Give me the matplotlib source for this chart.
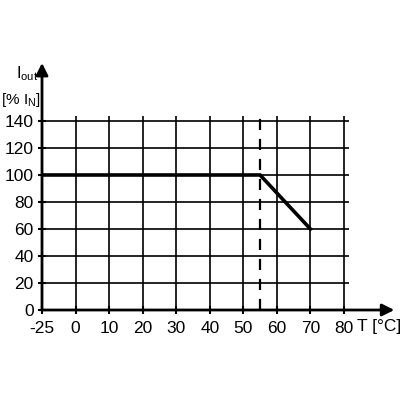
import numpy as np
import matplotlib
matplotlib.use("Agg")
import matplotlib.pyplot as plt

plt.rcParams['font.family'] = ['Liberation Sans', 'DejaVu Sans']
plt.rcParams['mathtext.fontset'] = 'custom'
plt.rcParams['mathtext.rm'] = 'Liberation Sans'

# derating curve
temp = [-25, 55, 70]
iout = [100, 100, 60]
derate_start = 55

xticks = [-25, 0, 10, 20, 30, 40, 50, 60, 70, 80]
yticks = [0, 20, 40, 60, 80, 100, 120, 140]


# -25 sits one grid step left of 0
def fwd(x):
    x = np.asarray(x, dtype=float)
    return np.where(x < 0, 1 + x / 25.0, 1 + x / 10.0)


def inv(p):
    p = np.asarray(p, dtype=float)
    return np.where(p < 1, (p - 1) * 25.0, (p - 1) * 10.0)


fig = plt.figure(figsize=(4, 4), dpi=100)
ax = fig.add_axes([0.105, 0.225, 0.7675, 0.485])
ax.set_xscale('function', functions=(fwd, inv))
ax.set_xlim(-25, 81.5)
ax.set_ylim(0, 143.7)

for x in xticks[1:]:
    ax.plot([x, x], [0, 143.7], color='black', lw=1.2, zorder=1)
for y in yticks[1:]:
    ax.plot([-25, 81.5], [y, y], color='black', lw=1.2, zorder=1)

ax.plot([derate_start, derate_start], [0, 143.7], color='black', lw=1.6,
        dashes=(5, 4), zorder=2)
ax.plot(temp, iout, color='black', lw=2.6, zorder=3, solid_joinstyle='miter')

for s in ax.spines.values():
    s.set_visible(False)

# axes with arrows
ax.annotate('', xy=(95, 0), xytext=(-25, 0), xycoords='data',
            arrowprops=dict(arrowstyle='-|>', color='black', lw=2,
                            mutation_scale=18, shrinkA=0, shrinkB=0),
            annotation_clip=False)
ax.annotate('', xy=(-25, 183), xytext=(-25, 0), xycoords='data',
            arrowprops=dict(arrowstyle='-|>', color='black', lw=2,
                            mutation_scale=18, shrinkA=0, shrinkB=0),
            annotation_clip=False)

ax.set_xticks(xticks)
ax.set_xticklabels([str(t) for t in xticks])
ax.set_yticks(yticks)
ax.set_yticklabels([str(t) for t in yticks])
ax.minorticks_off()
ax.tick_params(axis='both', direction='inout', length=6, width=1.5,
               labelsize=12.5, colors='black')
ax.tick_params(axis='x', pad=5)
ax.tick_params(axis='y', pad=3)

fig.text(0.948, 0.183, 'T [°C]', fontsize=12.5, ha='center', va='center')
fig.text(0.04, 0.805, r'$\mathregular{I_{out}}$', fontsize=11.5, ha='left', va='baseline')
fig.text(0.003, 0.74, r'[% $\mathregular{I_N}$]', fontsize=11, ha='left', va='baseline')

fig.savefig('out.png', dpi=100)
